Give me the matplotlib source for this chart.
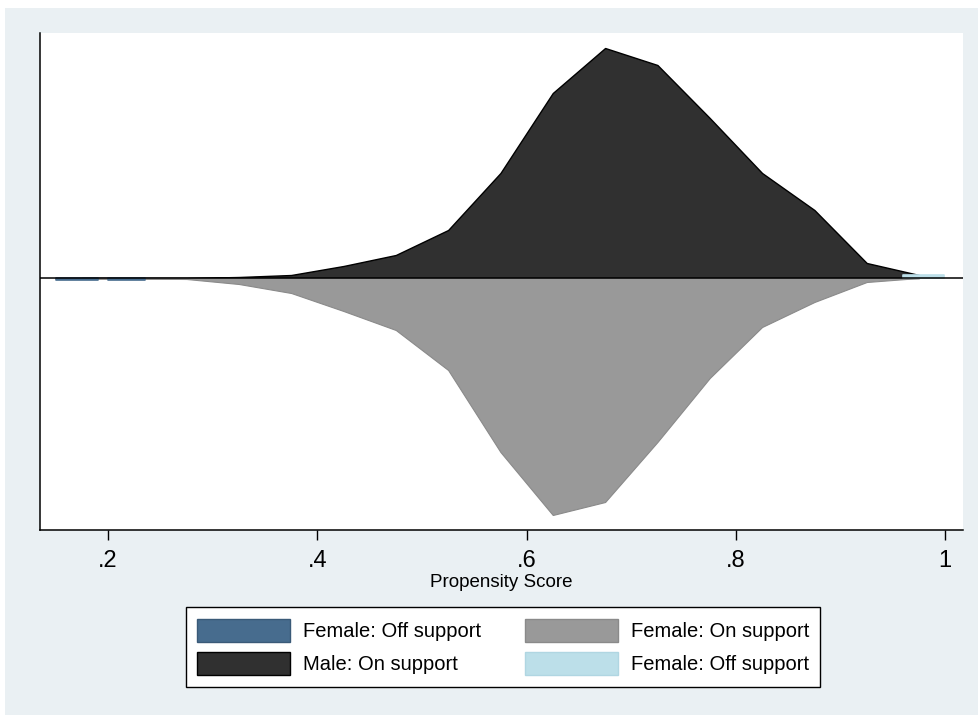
import matplotlib.pyplot as plt
from matplotlib.patches import Patch, Rectangle

# bin midpoints of the propensity score
score = [0.175, 0.225, 0.275, 0.325, 0.375, 0.425, 0.475, 0.525, 0.575,
         0.625, 0.675, 0.725, 0.775, 0.825, 0.875, 0.925, 0.975]

# density, male on support (drawn above the line)
male_on = [0.0, 0.0, 0.0, 0.02, 0.06, 0.24, 0.46, 0.96, 2.1,
           3.7, 4.6, 4.26, 3.2, 2.1, 1.36, 0.3, 0.06]

# density, female on support (drawn below the line)
female_on = [0.01, 0.01, 0.02, 0.12, 0.3, 0.66, 1.04, 1.84, 3.48,
             4.74, 4.48, 3.28, 2.0, 0.98, 0.48, 0.08, 0.0]

# off-support pieces: start, end, density
female_off_lo = [0.150, 0.200]
female_off_hi = [0.190, 0.235]
female_off_val = [0.04, 0.03]

treated_off_lo = [0.960]
treated_off_hi = [0.999]
treated_off_val = [0.06]

labels = ["Female: Off support", "Male: On support",
          "Female: On support", "Female: Off support"]

c_dblue = "#476c8e"
c_black = "#303030"
c_grey = "#999999"
c_lblue = "#bcdfe9"
bg = "#eaf0f3"

plt.rcParams['font.family'] = ['Liberation Sans', 'DejaVu Sans']

fig = plt.figure(figsize=(9.79, 7.15), dpi=100)
fig.patch.set_facecolor("white")
fig.patches.append(Rectangle((5 / 979, 0), 1 - 5 / 979, 1 - 8 / 715,
                             transform=fig.transFigure, facecolor=bg,
                             edgecolor="none", zorder=-10))

ax = fig.add_axes([40 / 979, 1 - 530 / 715, 923 / 979, 497 / 715])
ax.set_facecolor("white")

ax.fill_between(score, 0, male_on, facecolor=c_black, edgecolor="black",
                linewidth=1.0, zorder=2)
neg = [-v for v in female_on]
ax.fill_between(score, 0, neg, facecolor=c_grey, edgecolor="#8a8a8a",
                linewidth=0.8, zorder=2)

for lo, hi, v in zip(female_off_lo, female_off_hi, female_off_val):
    ax.fill_between([lo, hi], 0, [-v, -v], facecolor=c_dblue,
                    edgecolor=c_dblue, linewidth=1.2, zorder=3)
for lo, hi, v in zip(treated_off_lo, treated_off_hi, treated_off_val):
    ax.fill_between([lo, hi], 0, [v, v], facecolor=c_lblue,
                    edgecolor=c_lblue, linewidth=1.2, zorder=3)

ax.axhline(0, color="black", linewidth=1.1, zorder=4)

ax.set_xlim(0.135, 1.017)
ax.set_ylim(-5.04, 4.9)
ax.set_yticks([])
ax.set_xticks([0.2, 0.4, 0.6, 0.8, 1.0])
ax.set_xticklabels([".2", ".4", ".6", ".8", "1"], fontsize=17)
ax.tick_params(axis="x", length=7.5, width=1, direction="out", pad=7)
for s in ["top", "right"]:
    ax.spines[s].set_visible(False)
ax.spines["left"].set_linewidth(1.1)
ax.spines["bottom"].set_linewidth(1.1)
ax.set_xlabel("Propensity Score", fontsize=13.5, labelpad=1)

handles = [Patch(facecolor=c_dblue, edgecolor="#3a5a78"),
           Patch(facecolor=c_black, edgecolor="black"),
           Patch(facecolor=c_grey, edgecolor="#8a8a8a"),
           Patch(facecolor=c_lblue, edgecolor="#b0d6e2")]
leg = fig.legend(handles, labels, ncol=2, loc="center",
                 bbox_to_anchor=(503 / 979, 1 - 647 / 715),
                 fontsize=14.5, frameon=True, fancybox=False, framealpha=1,
                 handlelength=4.6, handleheight=1.45, handletextpad=0.65,
                 columnspacing=2.2, borderpad=0.55, labelspacing=0.45,
                 borderaxespad=0)
leg.get_frame().set_edgecolor("black")
leg.get_frame().set_linewidth(1.0)
leg.get_frame().set_facecolor("white")

fig.savefig("out.png", dpi=100)
